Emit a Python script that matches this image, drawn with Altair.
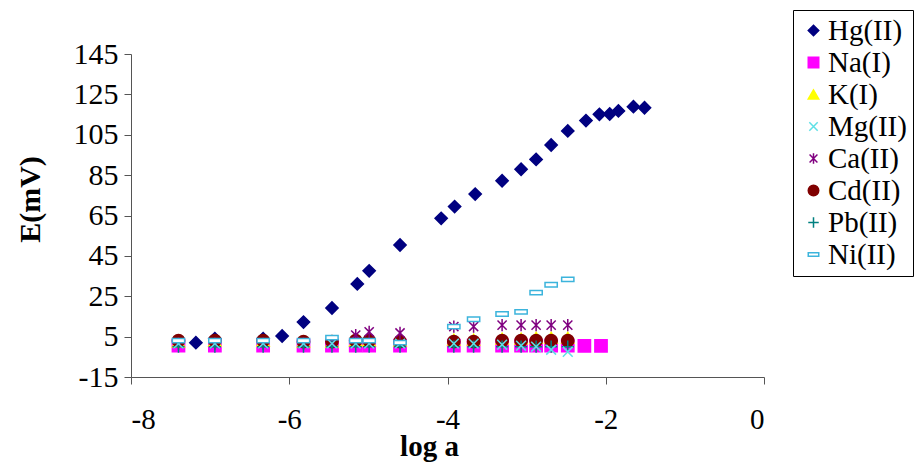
import altair as alt
import pandas as pd

series_names = ["Hg(II)", "Na(I)", "K(I)", "Mg(II)", "Ca(II)", "Cd(II)", "Pb(II)", "Ni(II)"]
draw_order = [0, 1, 2, 6, 4, 3, 5, 7]

hg_loga = [-7.18, -6.94, -6.33, -6.09, -5.82, -5.46, -5.14, -4.99, -4.60, -4.08, -3.91, -3.65,
           -3.31, -3.07, -2.88, -2.69, -2.48, -2.25, -2.08, -1.95, -1.84, -1.65, -1.51]
hg_e = [2.0, 4.0, 4.0, 5.3, 12.2, 19.2, 31.1, 37.6, 50.4, 63.6, 69.4, 75.6,
        82.2, 87.9, 92.8, 99.9, 106.9, 112.0, 115.1, 115.3, 116.8, 118.9, 118.4]

cluster_loga = [-7.40, -6.94, -6.33, -5.82, -5.46, -5.16, -4.99, -4.60,
                -3.92, -3.67, -3.31, -3.07, -2.88, -2.69, -2.48]
na_loga = [-7.40, -6.94, -6.33, -5.82, -5.46, -5.16, -4.99, -4.60,
           -3.92, -3.67, -3.31, -3.07, -2.88, -2.69, -2.48, -2.27, -2.06]
na_e = [0.5, 0.5, 0.5, 0.5, 0.5, 0.5, 0.5, 0.5, 0.5, 0.5, 0.5, 0.5, 0.5, 0.5, 0.5, 0.4, 0.4]
k_e = [2.5, 3.0, 3.0, 2.5, 2.5, 3.0, 3.0, 3.0, 3.5, 3.5, 4.0, 4.0, 4.5, 4.5, 4.5]
mg_e = [1.5, 1.5, 1.5, 1.5, 1.5, 1.5, 1.5, 1.5, 1.5, 1.5, 1.0, 0.5, 0.0, -1.5, -2.5]
ca_e = [1.5, 1.5, 1.5, 1.5, 2.0, 5.8, 7.4, 6.8, 10.0, 10.0, 10.7, 10.7, 10.7, 10.7, 10.7]
cd_e = [3.0, 3.0, 3.0, 2.5, 2.5, 3.0, 3.0, 2.5, 2.5, 2.5, 3.0, 3.0, 3.0, 3.0, 3.0]
pb_e = [0.0, 0.0, 0.0, 0.0, 0.0, 0.0, 0.0, 0.0, 0.0, 0.0, 0.0, 0.0, 0.0, 0.0, 0.0]
ni_e = [3.0, 3.0, 3.0, 3.0, 4.5, 3.0, 3.0, 2.0, 10.0, 13.6, 16.2, 17.3, 26.8, 30.7, 33.4]

fill_colors = ["#000080", "#FF00FF", "#FFFF00", "transparent", "transparent", "#800000", "transparent", "#FFFFFF"]
stroke_colors = ["#000080", "#FF00FF", "#FFFF00", "#5EE0E6", "#800080", "#800000", "#008080", "#3CB4DC"]
shapes = [
    "diamond",
    "square",
    "triangle-up",
    "M-0.8,-0.8L0.8,0.8M-0.8,0.8L0.8,-0.8",
    "M-0.75,-0.75L0.75,0.75M-0.75,0.75L0.75,-0.75M0,-1L0,1",
    "circle",
    "M0,-1L0,1M-1,0L1,0",
    "M-1,-0.35L1,-0.35L1,0.35L-1,0.35Z",
]

rows = []
def add(name, xs, ys):
    for x, y in zip(xs, ys):
        rows.append({"series": name, "loga": x, "E": y})

add("Hg(II)", hg_loga, hg_e)
add("Na(I)", na_loga, na_e)
add("K(I)", cluster_loga, k_e)
add("Mg(II)", cluster_loga, mg_e)
add("Ca(II)", cluster_loga, ca_e)
add("Cd(II)", cluster_loga, cd_e)
add("Pb(II)", cluster_loga, pb_e)
add("Ni(II)", cluster_loga, ni_e)
df = pd.DataFrame(rows)
df["order"] = df["series"].map({s: draw_order[i] for i, s in enumerate(series_names)})

FONT = "Liberation Serif"

legend = alt.Legend(
    title=None, orient="none", legendX=662, legendY=-44,
    strokeColor="black", fillColor="white", padding=6,
    labelFont=FONT, labelFontSize=29, labelColor="black", labelOffset=0,
    rowPadding=2, symbolSize=110, symbolStrokeWidth=1.5, labelLimit=200,
)

chart = alt.Chart(df).mark_point(size=150, strokeWidth=1.5, opacity=1, filled=False).encode(
    x=alt.X("loga:Q", scale=alt.Scale(domain=[-8, 0], nice=False, zero=False),
            axis=alt.Axis(title="log a", values=[-8, -6, -4, -2, 0], grid=False,
                          labelExpr="toString(datum.value)",
                          labelFont=FONT, labelFontSize=29, labelColor="black", labelPadding=21,
                          tickSize=7, tickColor="#555", domainColor="#555",
                          titleFont=FONT, titleFontSize=29, titleFontWeight="bold", titleColor="black",
                          titleX=298, titleY=78, titleBaseline="alphabetic", titleAlign="center")),
    y=alt.Y("E:Q", scale=alt.Scale(domain=[-15, 145], nice=False, zero=False),
            axis=alt.Axis(title="E(mV)", values=list(range(-15, 146, 20)), grid=False,
                          labelExpr="toString(datum.value)",
                          labelFont=FONT, labelFontSize=30, labelColor="black", labelPadding=6,
                          tickSize=7, tickColor="#555", domainColor="#555",
                          titleFont=FONT, titleFontSize=30, titleFontWeight="bold", titleColor="black",
                          titleX=-101, titleY=145, titleAngle=-90, titleBaseline="middle", titleAlign="center")),
    shape=alt.Shape("series:N", scale=alt.Scale(domain=series_names, range=shapes), legend=legend),
    fill=alt.Fill("series:N", scale=alt.Scale(domain=series_names, range=fill_colors), legend=legend),
    stroke=alt.Stroke("series:N", scale=alt.Scale(domain=series_names, range=stroke_colors), legend=legend),
    order=alt.Order("order:Q"),
).properties(
    width=633, height=323,
    autosize=alt.AutoSizeParams(type="none"),
    padding={"left": 123, "top": 46, "right": 150, "bottom": 85},
).configure_view(stroke=None).configure_legend(strokeWidth=1)

chart.save("out.html", embed_options={"renderer": "svg", "actions": False})
